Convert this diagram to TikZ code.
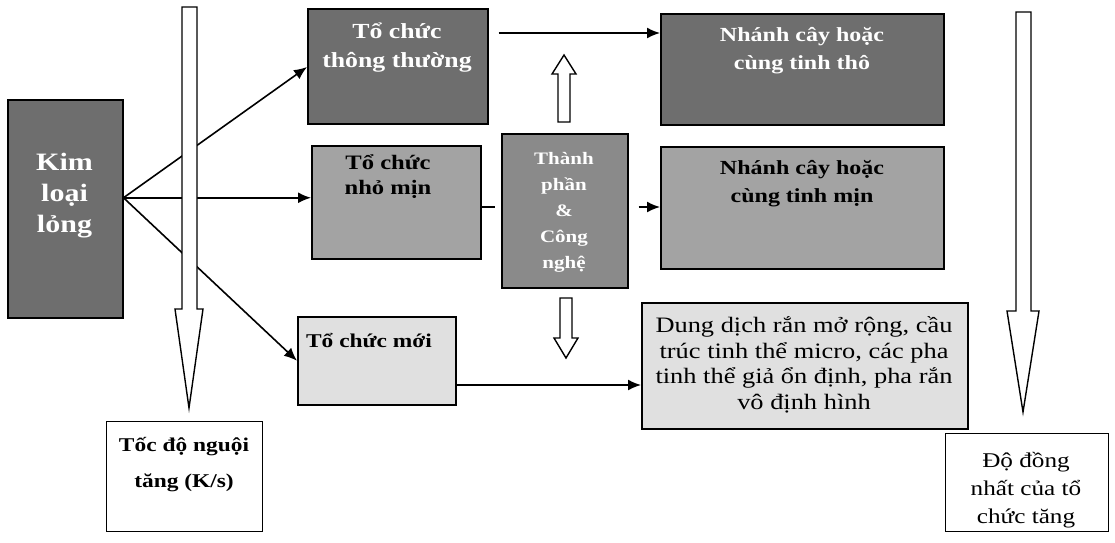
\documentclass[tikz,border=0pt]{standalone}
\usepackage{fontspec}
\setmainfont{Liberation Serif}[FakeStretch=1.2]
\usetikzlibrary{calc,arrows.meta}

\definecolor{darkbox}{HTML}{6E6E6E}
\definecolor{midbox}{HTML}{A3A3A3}
\definecolor{tpbox}{HTML}{8A8A8A}
\definecolor{lightbox}{HTML}{E0E0E0}

\tikzset{
  box/.style={draw=black, line width=1.5pt, inner sep=0pt, anchor=north west},
  conn/.style={line width=1.6pt, -{Latex[length=13pt,width=11pt]}},
  plainline/.style={line width=1.6pt},
  hollow/.style={draw=black, fill=white, line width=1.4pt, line join=miter},
  txt/.style={align=center, inner sep=0pt},
}

\begin{document}
\begin{tikzpicture}[x=1pt,y=-1pt]
\useasboundingbox (0,0) rectangle (1115,542);

% boxes
\node[box, fill=darkbox, minimum width=115, minimum height=218] (kim) at (7,99) {};
\node[box, fill=darkbox, minimum width=180, minimum height=115] (tt) at (307,8) {};
\node[box, fill=midbox, minimum width=169, minimum height=113] (nm) at (311,145) {};
\node[box, fill=tpbox, minimum width=126, minimum height=154] (tp) at (501,133) {};
\node[box, fill=lightbox, minimum width=158, minimum height=88] (tm) at (297,316) {};
\node[box, fill=darkbox, minimum width=283, minimum height=111] (nt) at (660,13) {};
\node[box, fill=midbox, minimum width=283, minimum height=122] (nw) at (660,146) {};
\node[box, fill=lightbox, minimum width=326, minimum height=126] (dd) at (641,302) {};
\node[box, fill=white, line width=1.2pt, minimum width=156, minimum height=110] (td) at (106,421) {};
\node[box, fill=white, line width=1.2pt, minimum width=163, minimum height=98] (dn) at (945,433) {};

% texts
\node[txt, text=white, font=\bfseries\fontsize{25}{31}\selectfont] (kimt) at (64.5,196) {Kim\\loại\\lỏng};
\node[txt, text=white, font=\bfseries\fontsize{21.5}{29}\selectfont] (ttt) at (397,48) {Tổ chức\\thông thường};
\node[txt, text=black, font=\bfseries\fontsize{20.5}{25}\selectfont] (nmt) at (388,177) {Tổ chức\\nhỏ mịn};
\node[txt, text=white, font=\bfseries\fontsize{17.5}{26}\selectfont] (tpt) at (564,212) {Thành\\phần\\\&\\Công\\nghệ};
\node[txt, text=black, font=\bfseries\fontsize{19.5}{25}\selectfont] (tmt) at (369,341) {Tổ chức mới};
\node[txt, text=white, font=\bfseries\fontsize{20}{28}\selectfont] (ntt) at (802,51) {Nhánh cây hoặc\\cùng tinh thô};
\node[txt, text=black, font=\bfseries\fontsize{20}{28}\selectfont] (nwt) at (802,184) {Nhánh cây hoặc\\cùng tinh mịn};
\node[txt, text=black, font=\fontsize{22}{25.5}\selectfont] (ddt) at (804,365) {Dung dịch rắn mở rộng, cầu\\trúc tinh thể micro, các pha\\tinh thể giả ổn định, pha rắn\\vô định hình};
\node[txt, text=black, font=\bfseries\fontsize{19.5}{36}\selectfont] (tdt) at (184,465) {Tốc độ nguội\\tăng (K/s)};
\node[txt, text=black, font=\fontsize{21}{28}\selectfont] (dnt) at (1026,490) {Độ đồng\\nhất của tổ\\chức tăng};

% connector anchor coordinates
\coordinate (ks) at ($(kim.east)+(0,-11)$);
\coordinate (y33) at (0,33);
\coordinate (y67) at (0,67);
\coordinate (y207) at (0,207);
\coordinate (y385) at (0,385);

% connectors
\draw[conn] (ks) -- (tt.west |- y67);
\draw[conn] (ks) -- (nm.west |- ks);
\draw[conn] (ks) -- (tm.west);
\draw[conn] ($(tt.east |- y33)+(10,0)$) -- (nt.west |- y33);
\draw[plainline] (nm.east |- y207) -- ++(13,0);
\draw[conn] ($(tp.east |- y207)+(10,0)$) -- (nw.west |- y207);
\draw[conn] (tm.east |- y385) -- (dd.west |- y385);

% hollow arrows
\draw[hollow] (182,7) -- (197,7) -- (197,309) -- (203,309) -- (189,408) -- (175,309) -- (182,309) -- cycle;
\draw[hollow] (1016,12) -- (1031,12) -- (1031,311) -- (1039,311) -- (1023,412) -- (1007,311) -- (1016,311) -- cycle;
\draw[hollow] (558,122) -- (570,122) -- (570,74) -- (576,74) -- (564,55) -- (552,74) -- (558,74) -- cycle;
\draw[hollow] (560,298) -- (572,298) -- (572,338) -- (578,338) -- (566,358) -- (554,338) -- (560,338) -- cycle;
\end{tikzpicture}
\end{document}
